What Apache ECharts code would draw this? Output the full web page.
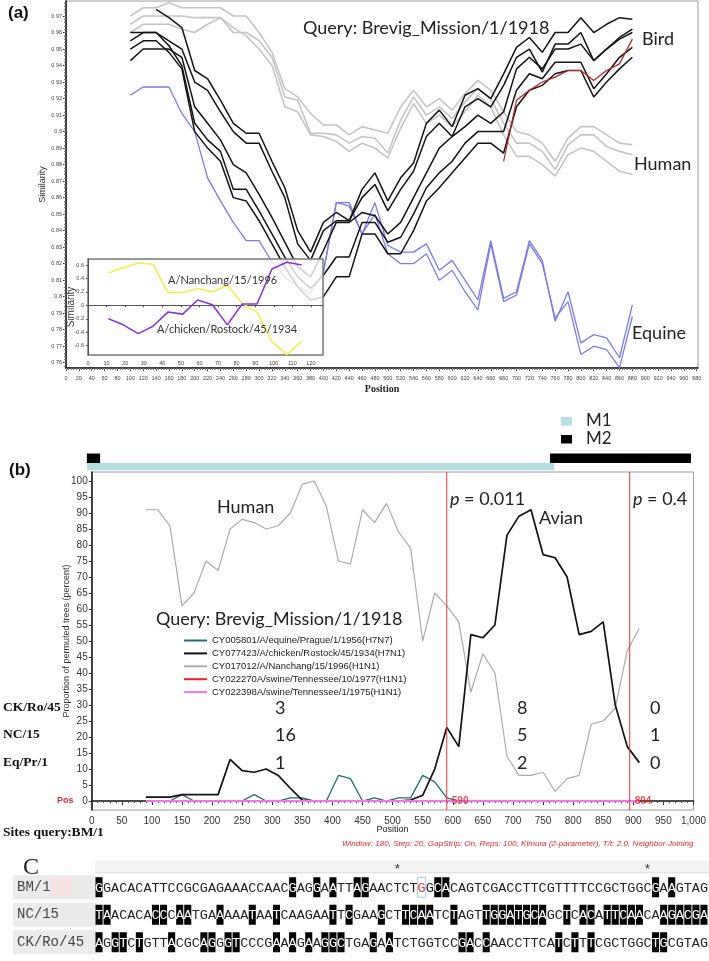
<!DOCTYPE html>
<html>
<head>
<meta charset="utf-8">
<script src="https://cdn.jsdelivr.net/npm/echarts@6/dist/echarts.min.js"></script>
<style>
  html, body { margin: 0; padding: 0; background: #fff; }
  #chart { width: 709px; height: 961px; }
</style>
</head>
<body>
<div id="chart"></div>
<script>
// ---------- panel (a): similarity plot ----------
var posA = [100,120,140,160,180,200,220,240,260,280,300,320,340,360,380,400,420,440,460,480,
            500,520,540,560,580,600,620,640,660,680,700,720,740,760,780,800,820,840,860,880];
var humanA1 = [0.970,0.975,0.975,0.978,0.975,0.975,0.975,0.975,0.970,0.970,0.960,0.948,0.926,0.921,0.911,0.904,0.904,0.898,0.903,0.901,
               0.899,0.915,0.925,0.915,0.920,0.913,0.923,0.931,0.925,0.912,0.900,0.898,0.893,0.882,0.896,0.903,0.903,0.898,0.893,0.892];
var humanA2 = [0.965,0.970,0.970,0.970,0.970,0.969,0.969,0.969,0.960,0.960,0.955,0.945,0.921,0.919,0.899,0.899,0.898,0.893,0.897,0.896,
               0.887,0.907,0.921,0.910,0.915,0.908,0.918,0.926,0.920,0.905,0.893,0.893,0.888,0.877,0.892,0.898,0.898,0.891,0.888,0.886];
var humanA3 = [0.960,0.965,0.965,0.965,0.962,0.960,0.965,0.969,0.963,0.958,0.950,0.940,0.915,0.912,0.898,0.897,0.894,0.888,0.893,0.890,
               0.884,0.902,0.917,0.905,0.910,0.903,0.912,0.922,0.915,0.898,0.885,0.885,0.880,0.873,0.886,0.890,0.888,0.882,0.876,0.874];
var equineA1 = [0.922,0.927,0.927,0.927,0.911,0.900,0.872,0.858,0.845,0.834,0.834,0.821,0.812,0.806,0.802,0.815,0.857,0.857,0.838,0.857,
                0.831,0.827,0.827,0.832,0.816,0.822,0.810,0.798,0.834,0.799,0.803,0.834,0.822,0.785,0.803,0.772,0.777,0.775,0.763,0.795];
var equineA2 = [null,null,null,null,null,null,null,null,null,null,null,null,null,null,null,0.815,0.857,0.855,0.838,0.850,
                0.826,0.820,0.820,0.826,0.810,0.816,0.803,0.792,0.832,0.797,0.801,0.832,0.820,0.787,0.797,0.765,0.770,0.768,0.757,0.788];
var birdA1 = [null,null,0.974,0.969,0.963,0.937,0.932,0.919,0.905,0.899,0.899,0.882,0.866,0.840,0.827,0.845,0.851,0.846,0.865,0.875,
              0.858,0.872,0.881,0.905,0.913,0.903,0.922,0.926,0.920,0.935,0.951,0.957,0.948,0.960,0.960,0.969,0.960,0.965,0.969,0.968];
var birdA2 = [0.960,0.960,0.960,0.955,0.950,0.930,0.925,0.912,0.900,0.893,0.893,0.876,0.860,0.832,0.822,0.840,0.846,0.846,0.860,0.868,
              0.852,0.865,0.876,0.897,0.905,0.897,0.915,0.920,0.915,0.928,0.945,0.950,0.936,0.953,0.953,0.960,0.943,0.950,0.957,0.962];
var birdA3 = [0.955,0.960,0.960,0.952,0.940,0.905,0.895,0.888,0.865,0.865,0.852,0.838,0.824,0.812,0.805,0.813,0.824,0.824,0.845,0.845,
              0.833,0.836,0.850,0.866,0.875,0.882,0.893,0.900,0.900,0.900,0.925,0.935,0.932,0.942,0.942,0.942,0.926,0.935,0.945,0.951];
var birdA4 = [0.950,0.955,0.955,0.948,0.938,0.900,0.890,0.882,0.860,0.858,0.846,0.832,0.818,0.806,0.798,0.800,0.812,0.812,0.838,0.838,
              0.826,0.826,0.840,0.858,0.866,0.875,0.884,0.893,0.893,0.887,0.915,0.925,0.928,0.935,0.937,0.937,0.921,0.930,0.938,0.945];
var birdA5 = [0.943,0.950,0.950,0.950,0.945,0.915,0.905,0.895,0.880,0.875,0.862,0.848,0.833,0.818,0.812,0.828,0.845,0.845,0.851,0.849,
              0.838,0.845,0.860,0.875,0.890,0.897,0.903,0.910,0.905,0.912,0.938,0.945,0.938,0.950,0.950,0.953,0.943,0.950,0.956,0.960];
var swineA = [null,null,null,null,null,null,null,null,null,null,null,null,null,null,null,null,null,null,null,null,
              null,null,null,null,null,null,null,null,null,0.882,0.919,0.925,0.930,0.933,0.937,0.937,0.931,0.937,0.941,0.956];
var yTicksA = [0.76,0.77,0.78,0.79,0.80,0.81,0.82,0.83,0.84,0.85,0.86,0.87,0.88,0.89,0.90,0.91,0.92,0.93,0.94,0.95,0.96,0.97];

// inset of (a)
var posInset = [11,19,27,35,43,51,59,67,75,83,91,99,107,115];
var nanchangInset = [0.48,0.56,0.63,0.61,0.19,0.19,0.25,0.20,0.30,0.03,-0.10,-0.54,-0.73,-0.54];
var rostockInset = [-0.20,-0.29,-0.42,-0.31,-0.10,-0.13,0.08,0.01,-0.29,0.02,0.02,0.54,0.64,0.60];
var xTicksInset = [0,10,20,30,40,50,60,70,80,90,100,110,120];
var yTicksInset = [-0.6,-0.4,-0.2,0,0.2,0.4,0.6];

// ---------- panel (b): bootscan ----------
var posB = [90,110,130,150,170,190,210,230,250,270,290,310,330,350,370,390,410,430,450,470,490,
            510,530,550,570,590,610,630,650,670,690,710,730,750,770,790,810,830,850,870,890,910];
var nanchangB = [91,91,86,61,65,75,72,85,88,87,85,86,90,99,100,92,75,74,91,87,93,
                 84,79,50,65,61,56,34,46,40,14,8,8,9,3,7,8,24,25,29,47,54];
var rostockB = [1.2,1.2,1.2,2,2,2,2,13,9.5,9,10,8,4,0.3,0,0,0,0,0,0,0,
                0,0.3,1.8,10,23,17,52,51,55,83,89,91,77,76,70,52,53,56,30,17,12];
var pragueB = [0,0,0,2,0,0,0,0,0,2,0,0,1,1,0,0,8,7,0,1,0,
               1,1,8,6,1,0,0,0,0,0,0,0,0,0,0,0,0,0,0,0,0];
var tenn77B = [0,0,0,0,0,0,0,0,0,0,0,0,0,0,0,0,0,0,0,0,0,
               0,0,0,0,0,0,0,0,0,0,0,0,0,0,0,0,0,0,0,0,0];
var tenn75B = [0,0,0,0,0,0,0,0,0,0,0,0,0,0,0,0,0,0,0,0,0,
               0,0,0,0,0,0,0,0,0,0,0,0,0,0,0,0,0,0,0,0,0];
var yTicksB = [0,5,10,15,20,25,30,35,40,45,50,55,60,65,70,75,80,85,90,95,100];
var breakpoints = [590, 894];
var pValues = ['0.011', '0.4'];
var legendB = ['CY005801/A/equine/Prague/1/1956(H7N7)', 'CY077423/A/chicken/Rostock/45/1934(H7N1)',
               'CY017012/A/Nanchang/15/1996(H1N1)', 'CY022270A/swine/Tennessee/10/1977(H1N1)',
               'CY022398A/swine/Tennessee/1/1975(H1N1)'];

// gene map above (b)
var segName = ['M1', 'M2', 'M2'];
var segStart = [-8, -8, 761];
var segEnd = [768, 14, 995];

// informative sites
var siteRows = ['CK/Ro/45', 'NC/15', 'Eq/Pr/1'];
var siteCounts = [[3, 8, 0], [16, 5, 1], [1, 2, 0]];

// ---------- panel C: alignment ----------
var seqNames = ['BM/1', 'NC/15', 'CK/Ro/45'];
var seqs = [
  'GGACACATTCCGCGAGAAACCAACGAGGAATTAGAACTCTGGCACAGTCGACCTTCGTTTTCCGCTGGCGAAGTAG',
  'TAACACACCCAATGAAAAATAATCAAGAATTCGAAGCTTCAATCTAGTTGGATGCAGCTCACATTCAACAAGACGA',
  'AGGTCTGTTACGCAGGGTCCCGAAAGAAGGCTGAGAATCTGGTCCGACCAACCTTCATCTTTCGCTGGCTGCGTAG'
];
var hlBM = [0,24,27,29,32,33,42,43,69,71];
var hlNC = [0,1,7,8,10,11,15,19,22,29,31,35,38,39,40,41,44,48,49,50,51,52,53,54,55,58,60,61,63,64,65,66,67,70,71,72,73,74,75];
var hlCK = [0,2,3,5,9,13,14,16,17,22,24,26,28,29,30,34,36,45,46,48,57,59,61,69,70];
var cursorCell = [0, 40];
var starCols = [37, 68];

function pairs(xs, ys) {
  var out = [];
  for (var i = 0; i < xs.length; i++) if (ys[i] != null) out.push([xs[i], ys[i]]);
  return out;
}
function trim(v) { return String(+v.toFixed(2)); }

var hlSets = [hlBM, hlNC, hlCK];
var cells = [];
seqs.forEach(function (s, r) {
  for (var c = 0; c < s.length; c++) {
    cells.push({ col: c, row: r, ch: s[c], hl: hlSets[r].indexOf(c) >= 0,
                 cursor: r === cursorCell[0] && c === cursorCell[1] });
  }
});
var colIdx = seqs[0].split('').map(function (d, i) { return i; });

var chart = echarts.init(document.getElementById('chart'));

var SANS = 'Lato';
var gA = 0, gIn = 1, gB = 2, gBar = 3, gAl = 4;
var yMinB = -2.8, yMaxB = 102.8;

function lineA(name, data, color, width, z) {
  return { name: name, type: 'line', xAxisIndex: 0, yAxisIndex: 0, data: pairs(posA, data),
           symbol: 'none', z: z || 2, lineStyle: { color: color, width: width } };
}
function lineB(name, data, color, width, z) {
  return { name: name, type: 'line', xAxisIndex: 3, yAxisIndex: 3, data: pairs(posB, data),
           symbol: 'none', z: z || 2, color: color, itemStyle: { color: color },
           lineStyle: { color: color, width: width } };
}

var minorX = [], minorY = [];
for (var mx = 0; mx <= 980; mx += 4) minorX.push(mx);
for (var my = 758; my <= 978; my += 2) minorY.push(my / 1000);

function txt(x, y, text, font, color, extra) {
  var st = { text: text, x: x, y: y, font: font, fill: color, textVerticalAlign: 'middle', verticalAlign: 'middle' };
  if (extra) for (var k in extra) st[k] = extra[k];
  return { type: 'text', z: 20, style: st };
}

var graphics = [
  // faded backing of the inset
  { type: 'rect', z: 3, shape: { x: 88, y: 259, width: 235, height: 96 }, style: { fill: 'rgba(255,255,255,0.8)' } },
  txt(8, 13, '(a)', 'bold 17px "Liberation Sans"', '#111'),
  txt(303, 28, 'Query: Brevig_Mission/1/1918', '18px ' + SANS, '#222'),
  txt(642, 39, 'Bird', '18px ' + SANS, '#222'),
  txt(634, 164, 'Human', '18px ' + SANS, '#222'),
  txt(632, 333, 'Equine', '18px ' + SANS, '#222'),
  txt(168, 280, 'A/Nanchang/15/1996', '11px ' + SANS, '#333'),
  txt(157, 329, 'A/chicken/Rostock/45/1934', '11px ' + SANS, '#333'),
  txt(9, 470, '(b)', 'bold 17px "Liberation Sans"', '#111'),
  { type: 'rect', z: 20, shape: { x: 561, y: 417, width: 11, height: 8.5 }, style: { fill: '#b4dde0' } },
  { type: 'rect', z: 20, shape: { x: 561, y: 435, width: 11, height: 8.5 }, style: { fill: '#000' } },
  txt(586, 421, 'M1', '17px ' + SANS, '#222'),
  txt(586, 439, 'M2', '17px ' + SANS, '#222'),
  txt(217, 507, 'Human', '18px ' + SANS, '#222'),
  txt(539, 518, 'Avian', '18px ' + SANS, '#222'),
  txt(450, 499, '{i|p} = ' + pValues[0], '18px ' + SANS, '#222', { rich: { i: { fontStyle: 'italic', fontSize: 18, fontFamily: SANS } } }),
  txt(633, 499, '{i|p} = ' + pValues[1], '18px ' + SANS, '#222', { rich: { i: { fontStyle: 'italic', fontSize: 18, fontFamily: SANS } } }),
  txt(156, 619, 'Query: Brevig_Mission/1/1918', '18px ' + SANS, '#222'),
  txt(57, 801, 'Pos', 'bold 9px "Liberation Sans"', '#e0282d'),
  txt(3, 833, 'Sites query:BM/1', 'bold 13.5px "Liberation Serif"', '#111'),
  txt(342, 844, 'Window: 180, Step: 20, GapStrip: On, Reps: 100, Kimura (2-parameter), T/t: 2.0, Neighbor-Joining',
      'italic 8.1px "Liberation Sans"', '#e0282d'),
  txt(23, 868, 'C', '24px "Liberation Serif"', '#222'),
  { type: 'rect', z: -1, shape: { x: 95, y: 861, width: 614, height: 13 }, style: { fill: '#f3f3f3' } }
];
var rowY = [708, 735, 763], colX = [275, 517, 650];
siteRows.forEach(function (name, r) {
  graphics.push(txt(3, rowY[r], name, 'bold 13.5px "Liberation Serif"', '#111'));
  siteCounts[r].forEach(function (v, k) {
    graphics.push(txt(colX[k], rowY[r], String(v), '18px ' + SANS, '#222'));
  });
});

var bpSeries = breakpoints.map(function (b, i) {
  return { name: 'bp' + i, type: 'line', xAxisIndex: 3, yAxisIndex: 3, z: 8, symbol: 'none',
           data: [[b, yMinB], [b, yMaxB]], lineStyle: { color: '#e3343a', width: 1 } };
});

var option = {
  animation: false,
  backgroundColor: '#fff',
  graphic: graphics,
  legend: {
    data: legendB.map(function (n) { return { name: n, icon: 'rect' }; }),
    orient: 'vertical', left: 179, top: 630, itemWidth: 23, itemHeight: 2, itemGap: 1.9,
    selectedMode: false, textStyle: { fontSize: 9.5, lineHeight: 11, fontFamily: 'Liberation Sans', color: '#222' }
  },
  grid: [
    { left: 66, top: 1, width: 632, height: 367, show: true, borderColor: '#9a9a9a', borderWidth: 1 },
    { left: 88, top: 259, width: 235, height: 96, show: true, borderColor: '#777', borderWidth: 1.5, z: 6 },
    { left: 91.7, top: 472, width: 602.3, height: 338, show: true, borderColor: '#9a9a9a', borderWidth: 1 },
    { left: 91.7, top: 453.5, width: 602.3, height: 19 },
    { left: 95, top: 873.5, width: 613, height: 82.5 }
  ],
  xAxis: [
    { gridIndex: gA, type: 'value', min: 0, max: 982, splitLine: { show: false },
      axisLine: { lineStyle: { color: '#111', width: 1.5 } },
      axisTick: { customValues: minorX.filter(function (v) { return v % 20 === 0; }), length: 3, lineStyle: { color: '#333' } },
      axisLabel: { customValues: minorX.filter(function (v) { return v % 20 === 0; }), fontSize: 5.5, color: '#444', margin: 7, fontFamily: 'Liberation Sans' },
      name: 'Position', nameLocation: 'middle', nameGap: 16, nameMoveOverlap: false,
      nameTextStyle: { fontFamily: 'Liberation Serif', fontWeight: 'bold', fontSize: 10, color: '#222' } },
    { gridIndex: gA, type: 'value', min: 0, max: 982, position: 'bottom', splitLine: { show: false },
      axisLine: { show: false }, axisLabel: { show: false },
      axisTick: { customValues: minorX, length: 2, lineStyle: { color: '#777' } } },
    { gridIndex: gIn, type: 'value', min: 0, max: 126.5, splitLine: { show: false }, z: 6,
      axisLine: { lineStyle: { color: '#555' } },
      axisTick: { customValues: xTicksInset, length: 2, lineStyle: { color: '#555' } },
      axisLabel: { customValues: xTicksInset, fontSize: 5.5, color: '#444', margin: 5, fontFamily: 'Liberation Sans' } },
    { gridIndex: gB, type: 'value', min: 0, max: 1000, interval: 50, splitLine: { show: false },
      axisLine: { lineStyle: { color: '#111', width: 1.5 } },
      axisTick: { length: 4, lineStyle: { color: '#333' } },
      minorTick: { show: true, splitNumber: 5, length: 2, lineStyle: { color: '#555' } },
      axisLabel: { fontSize: 10, color: '#333', margin: 6, fontFamily: 'Liberation Sans',
                   formatter: function (v) { return v.toLocaleString('en-US'); } },
      name: 'Position', nameLocation: 'middle', nameGap: 15, nameMoveOverlap: false,
      nameTextStyle: { fontFamily: 'Liberation Sans', fontSize: 9, color: '#222' } },
    { gridIndex: gBar, type: 'value', min: 0, max: 1000, show: false },
    { gridIndex: gAl, type: 'category', data: colIdx, position: 'top', offset: 1,
      axisLine: { lineStyle: { color: '#e2e2e2' } },
      axisTick: { interval: 0, alignWithLabel: true, length: 9, lineStyle: { color: '#cdcdcd' } },
      axisLabel: { interval: 0, margin: -4, fontSize: 13, color: '#333', fontFamily: 'Liberation Mono',
                   formatter: function (v, i) { return starCols.indexOf(i) >= 0 ? '*' : ''; } } }
  ],
  yAxis: [
    { gridIndex: gA, type: 'value', min: 0.7568, max: 0.9791, splitLine: { show: false },
      axisLine: { show: true, lineStyle: { color: '#111', width: 1.5 } },
      axisTick: { show: true, customValues: yTicksA, length: 3, lineStyle: { color: '#333' } },
      axisLabel: { customValues: yTicksA, fontSize: 5.5, color: '#444', margin: 4, fontFamily: 'Liberation Sans', formatter: trim },
      name: 'Similarity', nameLocation: 'middle', nameGap: 19, nameMoveOverlap: false,
      nameTextStyle: { fontFamily: 'Liberation Sans', fontSize: 9, color: '#333' } },
    { gridIndex: gA, type: 'value', min: 0.7568, max: 0.9791, position: 'left', splitLine: { show: false },
      axisLine: { show: false }, axisLabel: { show: false },
      axisTick: { show: true, customValues: minorY, length: 2, lineStyle: { color: '#777' } } },
    { gridIndex: gIn, type: 'value', min: -0.738, max: 0.689, splitLine: { show: false }, z: 6,
      axisLine: { show: true, lineStyle: { color: '#555' } },
      axisTick: { show: true, customValues: yTicksInset, length: 2, lineStyle: { color: '#555' } },
      axisLabel: { customValues: yTicksInset, fontSize: 5.5, color: '#444', margin: 4, fontFamily: 'Liberation Sans', formatter: trim },
      name: 'Similarity', nameLocation: 'middle', nameGap: 12, nameMoveOverlap: false,
      nameTextStyle: { fontFamily: 'Liberation Sans', fontSize: 10, color: '#333' } },
    { gridIndex: gB, type: 'value', min: yMinB, max: yMaxB, splitLine: { show: false },
      axisLine: { show: true, lineStyle: { color: '#111', width: 1.5 } },
      axisTick: { show: true, customValues: yTicksB, length: 3, lineStyle: { color: '#333' } },
      axisLabel: { customValues: yTicksB, fontSize: 10, color: '#333', margin: 4, fontFamily: 'Liberation Sans' },
      name: 'Proportion of permuted trees (percent)', nameLocation: 'middle', nameGap: 21, nameMoveOverlap: false,
      nameTextStyle: { fontFamily: 'Liberation Sans', fontSize: 9, color: '#333' } },
    { gridIndex: gBar, type: 'category', data: ['M1', 'M2'], show: false },
    { gridIndex: gAl, type: 'category', data: seqNames, inverse: true,
      axisLine: { show: false }, axisTick: { show: false },
      axisLabel: {
        align: 'left', margin: 82, width: 80, height: 24, lineHeight: 24, padding: [0, 0, 0, 4],
        backgroundColor: '#ebebeb', borderRadius: 1,
        fontSize: 14, color: '#444', fontFamily: 'Liberation Mono',
        formatter: function (v, i) { return i === 0 ? '{t|' + v + '}{p|}' : '{t|' + v + '}'; },
        rich: { t: { fontSize: 14, fontFamily: 'Liberation Mono', color: '#444' },
                p: { backgroundColor: '#f8e3e3', width: 22, height: 18 } }
      } }
  ],
  series: [
    lineA('hum1', humanA1, '#c4c4c4', 1.6),
    lineA('hum2', humanA2, '#c4c4c4', 1.6),
    lineA('hum3', humanA3, '#c4c4c4', 1.6),
    lineA('eq1', equineA1, '#7c7ce0', 1.3),
    lineA('eq2', equineA2, '#7c7ce0', 1.3),
    lineA('bird1', birdA1, '#141414', 1.5),
    lineA('bird2', birdA2, '#141414', 1.5),
    lineA('bird3', birdA3, '#141414', 1.5),
    lineA('bird4', birdA4, '#141414', 1.5),
    lineA('bird5', birdA5, '#141414', 1.5),
    lineA('swine', swineA, '#b02525', 1.2),
    { name: 'inNC', type: 'line', xAxisIndex: 2, yAxisIndex: 2, data: pairs(posInset, nanchangInset),
      symbol: 'none', z: 7, lineStyle: { color: '#f0f04a', width: 1.6 } },
    { name: 'inCK', type: 'line', xAxisIndex: 2, yAxisIndex: 2, data: pairs(posInset, rostockInset),
      symbol: 'none', z: 7, lineStyle: { color: '#8a35d6', width: 1.6 } },
    lineB(legendB[0], pragueB, '#1d6f6a', 1.3, 3),
    lineB(legendB[1], rostockB, '#111111', 1.7, 4),
    lineB(legendB[2], nanchangB, '#ababab', 1.2, 2),
    lineB(legendB[3], tenn77B, '#ee2222', 2, 5),
    lineB(legendB[4], tenn75B, '#f272f0', 2, 6)
  ].concat(bpSeries).concat([
    { name: 'bpLabel', type: 'scatter', xAxisIndex: 3, yAxisIndex: 3, z: 9, symbolSize: 0,
      data: breakpoints.map(function (b) { return [b, 0]; }),
      label: { show: true, position: 'right', distance: 5, color: '#e0282d', fontSize: 10, fontWeight: 'bold',
               fontFamily: 'Liberation Sans', formatter: function (p) { return p.value[0]; } } },
    { name: 'genes', type: 'custom', xAxisIndex: 4, yAxisIndex: 4, encode: { x: [0, 1], y: 2 },
      data: segName.map(function (n, i) { return [segStart[i], segEnd[i], n]; }),
      renderItem: function (params, api) {
        var lane = api.value(2);
        var a = api.coord([api.value(0), lane]);
        var b = api.coord([api.value(1), lane]);
        var band = api.size([0, 1])[1];
        var h = lane === 1 ? band : band * 0.75;
        return { type: 'rect', shape: { x: a[0], y: a[1] - band / 2, width: b[0] - a[0], height: h },
                 style: { fill: lane === 1 ? '#000' : '#b4dde0' } };
      } },
    { name: 'align', type: 'custom', xAxisIndex: 5, yAxisIndex: 5, encode: { x: 0, y: 1 },
      data: cells.map(function (c) { return [c.col, c.row]; }),
      renderItem: function (params, api) {
        var cell = cells[params.dataIndex];
        var c = api.coord([api.value(0), api.value(1)]);
        var w = api.size([1, 0])[0];
        var kids = [];
        if (cell.hl) kids.push({ type: 'rect', shape: { x: c[0] - w / 2 + 0.5, y: c[1] - 10, width: w - 1, height: 20 },
                                 style: { fill: '#000' } });
        if (cell.cursor) kids.push({ type: 'rect', shape: { x: c[0] - w / 2, y: c[1] - 10, width: w, height: 20 },
                                     style: { fill: 'none', stroke: '#9fd0e8', lineWidth: 1 } });
        kids.push({ type: 'text', style: { text: cell.ch, x: c[0], y: c[1] + 1, align: 'center', verticalAlign: 'middle',
                    textAlign: 'center', textVerticalAlign: 'middle', font: '13.5px "Liberation Mono"',
                    fill: cell.hl ? '#fff' : (cell.cursor ? '#e03c3c' : '#222') } });
        return { type: 'group', children: kids };
      } }
  ])
};
chart.setOption(option);
</script>
</body>
</html>
